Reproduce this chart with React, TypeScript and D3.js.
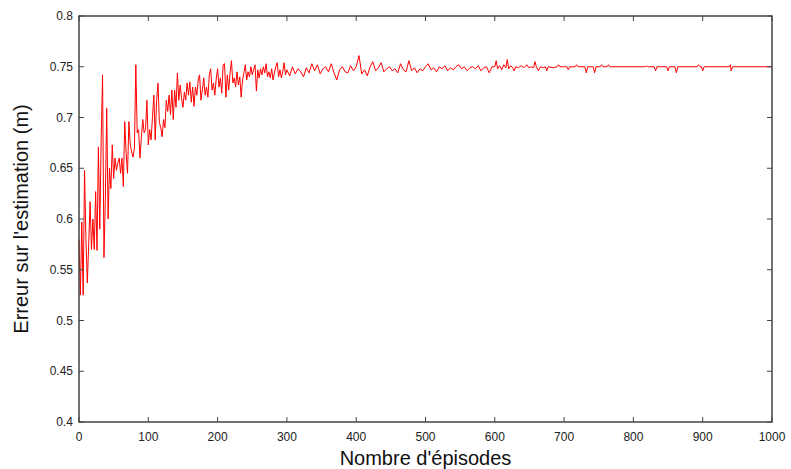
import React, { useEffect, useRef } from "react";
import * as d3 from "d3";

// error per episode
// episodes 0..298, every 2 episodes
const earlyErrors = [
  0.580, 0.525, 0.597, 0.525, 0.648, 0.580, 0.537, 0.575, 0.617, 0.570,
  0.600, 0.570, 0.627, 0.569, 0.671, 0.590, 0.678, 0.742, 0.562, 0.620,
  0.709, 0.600, 0.650, 0.630, 0.673, 0.640, 0.660, 0.648, 0.655, 0.660,
  0.645, 0.660, 0.632, 0.696, 0.665, 0.645, 0.696, 0.673, 0.666, 0.661,
  0.670, 0.752, 0.685, 0.688, 0.660, 0.680, 0.698, 0.685, 0.688, 0.717,
  0.673, 0.688, 0.678, 0.700, 0.722, 0.678, 0.717, 0.734, 0.695, 0.690,
  0.681, 0.698, 0.690, 0.717, 0.706, 0.722, 0.703, 0.727, 0.698, 0.727,
  0.710, 0.744, 0.717, 0.732, 0.719, 0.710, 0.725, 0.717, 0.734, 0.722,
  0.735, 0.715, 0.730, 0.711, 0.730, 0.722, 0.737, 0.742, 0.717, 0.727,
  0.739, 0.722, 0.730, 0.720, 0.742, 0.748, 0.727, 0.734, 0.722, 0.738,
  0.748, 0.730, 0.739, 0.724, 0.752, 0.753, 0.720, 0.742, 0.727, 0.744,
  0.756, 0.734, 0.739, 0.730, 0.745, 0.732, 0.740, 0.720, 0.737, 0.744,
  0.752, 0.737, 0.745, 0.740, 0.750, 0.742, 0.747, 0.752, 0.726, 0.747,
  0.739, 0.748, 0.742, 0.750, 0.744, 0.753, 0.740, 0.745, 0.739, 0.748,
  0.737, 0.744, 0.750, 0.754, 0.740, 0.747, 0.739, 0.745, 0.754, 0.742,
];
const earlyStep = 2;

// episodes 300..596, every 4 episodes
const midErrors = [
  0.747, 0.741, 0.750, 0.743, 0.748, 0.745, 0.740, 0.749, 0.744, 0.753,
  0.746, 0.752, 0.743, 0.748, 0.750, 0.745, 0.753, 0.744, 0.737, 0.747,
  0.750, 0.745, 0.744, 0.751, 0.746, 0.750, 0.761, 0.743, 0.747, 0.741,
  0.750, 0.755, 0.746, 0.749, 0.754, 0.745, 0.748, 0.750, 0.746, 0.748,
  0.744, 0.753, 0.747, 0.745, 0.756, 0.746, 0.749, 0.744, 0.748, 0.746,
  0.750, 0.753, 0.747, 0.749, 0.745, 0.750, 0.748, 0.751, 0.746, 0.749,
  0.747, 0.750, 0.752, 0.748, 0.750, 0.746, 0.749, 0.750, 0.748, 0.751,
  0.746, 0.749, 0.750, 0.744, 0.750,
];
const midStart = 300;
const midStep = 4;

// after 600 the curve is flat with a few isolated spikes
const lateEpisodes = [
  600, 602, 604, 607, 610, 613, 616, 618, 620, 623, 626, 628, 630, 634, 638,
  642, 646, 649, 652, 656, 658, 660, 663, 666, 670, 673, 675, 677, 684, 690,
  692, 694, 704, 706, 708, 716, 718, 720, 730, 732, 734, 742, 744, 746, 752,
  754, 756, 762, 764, 766, 817, 819, 821, 830, 832, 834, 848, 850, 852, 860,
  862, 864, 892, 894, 896, 898, 900, 902, 938, 940, 941, 943, 1000,
];
const lateErrors = [
  0.750, 0.756, 0.748, 0.751, 0.747, 0.752, 0.749, 0.757, 0.748, 0.751, 0.749, 0.746, 0.750, 0.749, 0.751,
  0.749, 0.752, 0.749, 0.750, 0.749, 0.755, 0.750, 0.746, 0.750, 0.749, 0.750, 0.746, 0.750, 0.749, 0.750,
  0.752, 0.750, 0.750, 0.747, 0.750, 0.750, 0.752, 0.750, 0.750, 0.744, 0.750, 0.750, 0.744, 0.750, 0.750,
  0.752, 0.750, 0.750, 0.752, 0.750, 0.750, 0.751, 0.750, 0.750, 0.746, 0.750, 0.750, 0.746, 0.750, 0.750,
  0.744, 0.750, 0.750, 0.752, 0.750, 0.750, 0.746, 0.750, 0.750, 0.752, 0.746, 0.750, 0.750,
];

const xTicks = [0, 100, 200, 300, 400, 500, 600, 700, 800, 900, 1000];
const yTicks = [0.4, 0.45, 0.5, 0.55, 0.6, 0.65, 0.7, 0.75, 0.8];

const W = 791, H = 469;
const margin = { top: 16, right: 19, bottom: 47, left: 79 };

export default function App() {
  const ref = useRef<SVGSVGElement>(null);

  useEffect(() => {
    const points: [number, number][] = [];
    earlyErrors.forEach((v, i) => points.push([i * earlyStep, v]));
    midErrors.forEach((v, i) => points.push([midStart + i * midStep, v]));
    lateEpisodes.forEach((e, i) => points.push([e, lateErrors[i]]));

    const w = W - margin.left - margin.right;
    const h = H - margin.top - margin.bottom;

    const svg = d3.select(ref.current);
    svg.selectAll("*").remove();
    const g = svg.append("g").attr("transform", `translate(${margin.left},${margin.top})`);

    const x = d3.scaleLinear().domain([0, 1000]).range([0, w]);
    const y = d3.scaleLinear().domain([0.4, 0.8]).range([h, 0]);

    // data line
    g.append("path")
      .datum(points)
      .attr("fill", "none")
      .attr("stroke", "#ff0000")
      .attr("stroke-width", 1)
      .attr("stroke-linejoin", "miter")
      .attr("d", d3.line<[number, number]>().x(d => x(d[0])).y(d => y(d[1])));

    const axisColor = "#444";
    const tl = 5;

    // frame
    g.append("rect")
      .attr("width", w).attr("height", h)
      .attr("fill", "none")
      .attr("stroke", axisColor)
      .attr("stroke-width", 1.5);

    // ticks on all four sides, pointing inward
    xTicks.forEach(t => {
      g.append("line").attr("x1", x(t)).attr("x2", x(t)).attr("y1", h).attr("y2", h - tl)
        .attr("stroke", axisColor);
      g.append("line").attr("x1", x(t)).attr("x2", x(t)).attr("y1", 0).attr("y2", tl)
        .attr("stroke", axisColor);
      g.append("text").attr("x", x(t)).attr("y", h + 19)
        .attr("text-anchor", "middle")
        .style("font-family", "'Liberation Sans', Arial, sans-serif")
        .style("font-size", "12px").attr("fill", "#222")
        .text(t);
    });
    yTicks.forEach(t => {
      g.append("line").attr("x1", 0).attr("x2", tl).attr("y1", y(t)).attr("y2", y(t))
        .attr("stroke", axisColor);
      g.append("line").attr("x1", w).attr("x2", w - tl).attr("y1", y(t)).attr("y2", y(t))
        .attr("stroke", axisColor);
      g.append("text").attr("x", -6).attr("y", y(t)).attr("dy", "0.35em")
        .attr("text-anchor", "end")
        .style("font-family", "'Liberation Sans', Arial, sans-serif")
        .style("font-size", "12px").attr("fill", "#222")
        .text(String(+t.toFixed(2)));
    });

    // axis titles
    g.append("text")
      .attr("x", w / 2).attr("y", h + 43)
      .attr("text-anchor", "middle")
      .style("font-family", "'Liberation Sans', Arial, sans-serif")
      .style("font-size", "20px").attr("fill", "#111")
      .text("Nombre d'épisodes");
    g.append("text")
      .attr("transform", `translate(${-51},${h / 2}) rotate(-90)`)
      .attr("text-anchor", "middle")
      .style("font-family", "'Liberation Sans', Arial, sans-serif")
      .style("font-size", "20px").attr("fill", "#111")
      .text("Erreur sur l'estimation (m)");
  }, []);

  return (
    <svg ref={ref} width={W} height={H}
      style={{ position: "absolute", left: 0, top: 0, background: "#fff" }} />
  );
}
